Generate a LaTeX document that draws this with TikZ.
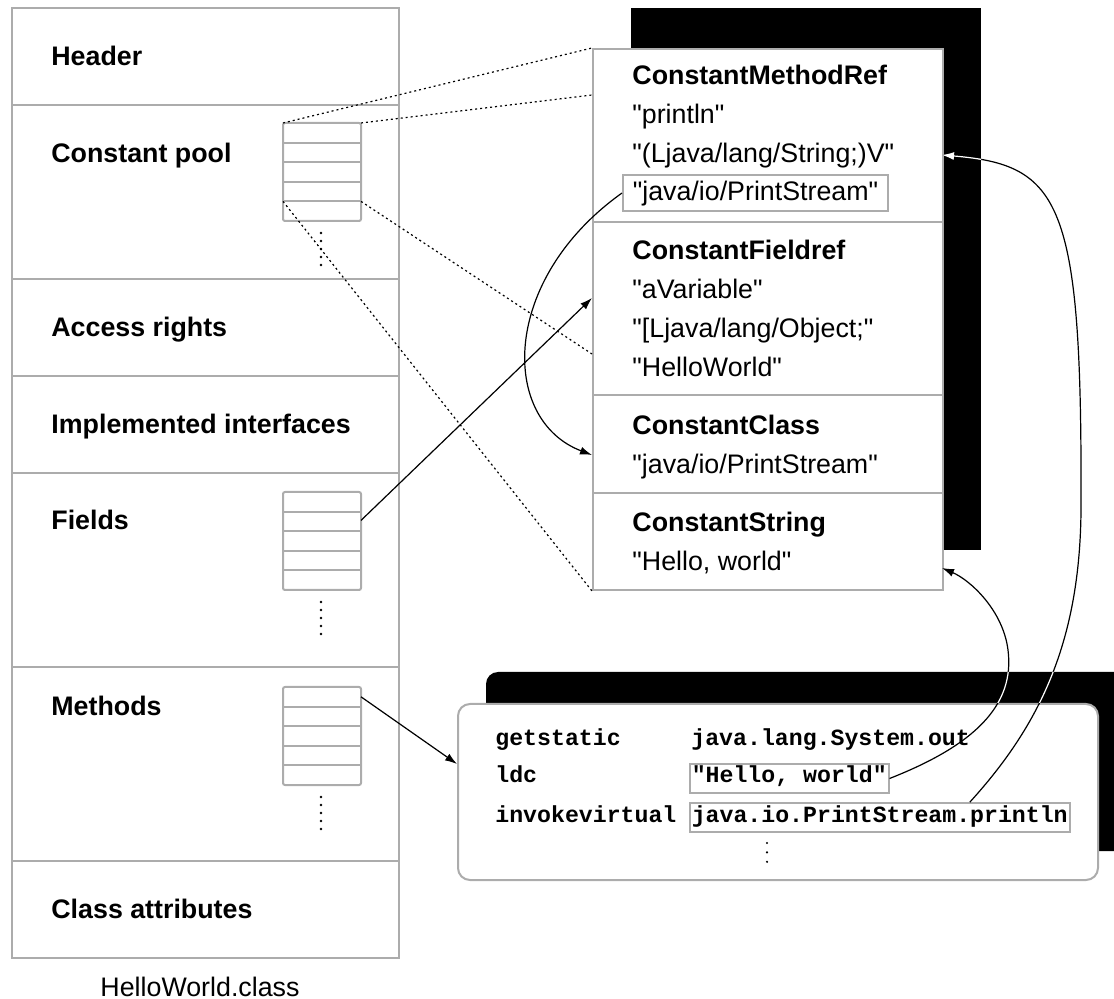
\documentclass[tikz,border=0pt]{standalone}
\usepackage{fontspec}
\setmainfont{Liberation Sans}[Ligatures=TeXOff]
\setmonofont{Liberation Mono}
\usetikzlibrary{arrows.meta,calc}

\tikzset{
  frame/.style={draw=gray!65, line width=1.3pt},
  cell/.style={draw=gray!65, line width=1pt},
  fieldname/.style={anchor=base west, inner sep=0pt, font=\fontsize{13.4}{16}\selectfont\bfseries},
  cpentry/.style={anchor=base west, inner sep=0pt, font=\fontsize{13.4}{16}\selectfont},
  opcode/.style={anchor=base west, inner sep=0pt, font=\fontsize{11.6}{14}\selectfont\ttfamily\bfseries},
  boxed/.style={draw=gray!65, line width=0.8pt, inner ysep=2pt, text depth=3pt},
  ref/.style={-{Latex[length=6pt,width=4pt]}, line width=0.6pt},
  link/.style={line width=0.6pt, dash pattern=on 1pt off 1.5pt},
  vdots/.style={line width=1.4pt, dash pattern=on 0pt off 4pt, line cap=round},
}

\begin{document}
\begin{tikzpicture}[x=0.5pt, y=-0.5pt]
    \clip (0,0) rectangle (1114,999);

    % Class file layout
    \draw[frame] (12,8) rectangle (399,958);
    \foreach \y in {105,279,376,473,667,861}
        \draw[frame] (12,\y) -- (399,\y);
    \node[fieldname] (header) at (51,66) {Header};
    \node[fieldname] (cpool) at (51,163) {Constant pool};
    \node[fieldname] (access) at (51,337) {Access rights};
    \node[fieldname] (ifaces) at (51,434) {Implemented interfaces};
    \node[fieldname] (fields) at (51,530) {Fields};
    \node[fieldname] (methods) at (51,715) {Methods};
    \node[fieldname] (attrs) at (51,918) {Class attributes};
    \node[cpentry, anchor=base] (classfile) at (200,996) {HelloWorld.class};

    % Tables inside the class file
    \foreach \t/\y in {cp/123, fld/492, mth/687} {
        \draw[cell, rounded corners=1pt] (283,\y) rectangle (361,\y+98);
        \foreach \i in {1,...,4}
            \draw[cell] (283,\y+19.6*\i) -- (361,\y+19.6*\i);
        \draw[vdots] (321,\y+110) -- (321,\y+143);
        \coordinate (\t-nw) at (283,\y);
        \coordinate (\t-ne) at (361,\y);
        \coordinate (\t-r1) at (361,\y+9.8);
        \coordinate (\t-r2) at (361,\y+28.4);
        \coordinate (\t-r4w) at (283,\y+78.4);
        \coordinate (\t-r4e) at (361,\y+78.4);
    }

    % Constant pool entries
    \fill (631,8) rectangle (981,550);
    \node[draw=gray!65, line width=1pt, fill=white, inner sep=0pt, anchor=north west,
          minimum width=175pt, minimum height=270.5pt] (pool) at (592,48) {};
    \foreach \y in {222,395,493}
        \draw[cell] (592,\y) -- (942,\y);
    \node[fieldname] (mref) at (632,85) {ConstantMethodRef};
    \node[cpentry] (mref-name) at (632,124) {"println"};
    \node[cpentry] (mref-sig) at (632,163) {"(Ljava/lang/String;)V"};
    \node[cpentry, boxed, inner xsep=5pt, text height=11pt] (mref-cls) at (622,201) {"java/io/PrintStream"\hspace{3.5pt}};
    \node[fieldname] (fref) at (632,260) {ConstantFieldref};
    \node[cpentry] (fref-name) at (632,299) {"aVariable"};
    \node[cpentry] (fref-sig) at (632,338) {"[Ljava/lang/Object;"};
    \node[cpentry] (fref-cls) at (632,377) {"HelloWorld"};
    \node[fieldname] (cls) at (632,435) {ConstantClass};
    \node[cpentry] (cls-name) at (632,474) {"java/io/PrintStream"};
    \node[fieldname] (str) at (632,532) {ConstantString};
    \node[cpentry] (str-val) at (632,571) {"Hello, world"};
    \coordinate (pool-a) at (592,95);
    \coordinate (pool-b) at (592,354);
    \coordinate (fref-in) at (592,298);
    \coordinate (cls-in) at (592,455);
    \coordinate (str-in) at (942,568);
    \coordinate (mref-in) at (942,155);

    % Bytecode of main
    \fill[rounded corners=6pt] (486,672) rectangle (1127,851);
    \node[draw=gray!65, line width=1pt, fill=white, rounded corners=6pt, inner sep=0pt,
          anchor=north west, minimum width=320pt, minimum height=88pt] (code) at (457,703) {};
    \node[opcode] (op1) at (495,745) {getstatic};
    \node[opcode] (arg1) at (691,745) {java.lang.System.out};
    \node[opcode] (op2) at (495,783) {ldc};
    \node[opcode, boxed, inner xsep=1pt, text height=7.5pt] (arg2) at (689,783) {"Hello, world"\hspace{7.5pt}};
    \node[opcode] (op3) at (495,822) {invokevirtual};
    \node[opcode, boxed, inner xsep=1pt, text height=7.5pt] (arg3) at (689,822) {java.io.PrintStream.println\hspace{9pt}};
    \draw[vdots, line width=1.2pt, dash pattern=on 0pt off 4.7pt] (767,843) -- (767,863);
    \coordinate (code-in) at (457,764);

    % Dotted lines: constant pool table to its entries
    \draw[link] (cp-nw) -- (pool.north west);
    \draw[link] (cp-ne) -- (pool-a);
    \draw[link] (cp-r4e) -- (pool-b);
    \draw[link] (cp-r4w) -- (pool.south west);

    % References
    \draw[ref] (fld-r2) -- (fref-in);
    \draw[ref] (mth-r1) -- (code-in);
    \draw[ref] (mref-cls.west) .. controls (500,280) and (500,420) .. (cls-in);
    \draw[ref] (arg2.east) .. controls (975,745) and (1015,705) .. (1008,650)
        .. controls (1003,610) and (970,580) .. (str-in);
    \draw[ref] ($(arg3.north west)!0.736!(arg3.north east)$) .. controls (1040,725) and (1082,640) .. (1081,500)
        .. controls (1082,200) and (1060,165) .. (mref-in);

    % same references in white where they cross the shadows
    \begin{scope}
        \clip (942,8) rectangle (981,550) (486,672) rectangle (1114,703);
        \draw[ref, white] (arg2.east) .. controls (975,745) and (1015,705) .. (1008,650)
            .. controls (1003,610) and (970,580) .. (str-in);
        \draw[ref, white] ($(arg3.north west)!0.736!(arg3.north east)$) .. controls (1040,725) and (1082,640) .. (1081,500)
            .. controls (1082,200) and (1060,165) .. (mref-in);
    \end{scope}
\end{tikzpicture}
\end{document}
